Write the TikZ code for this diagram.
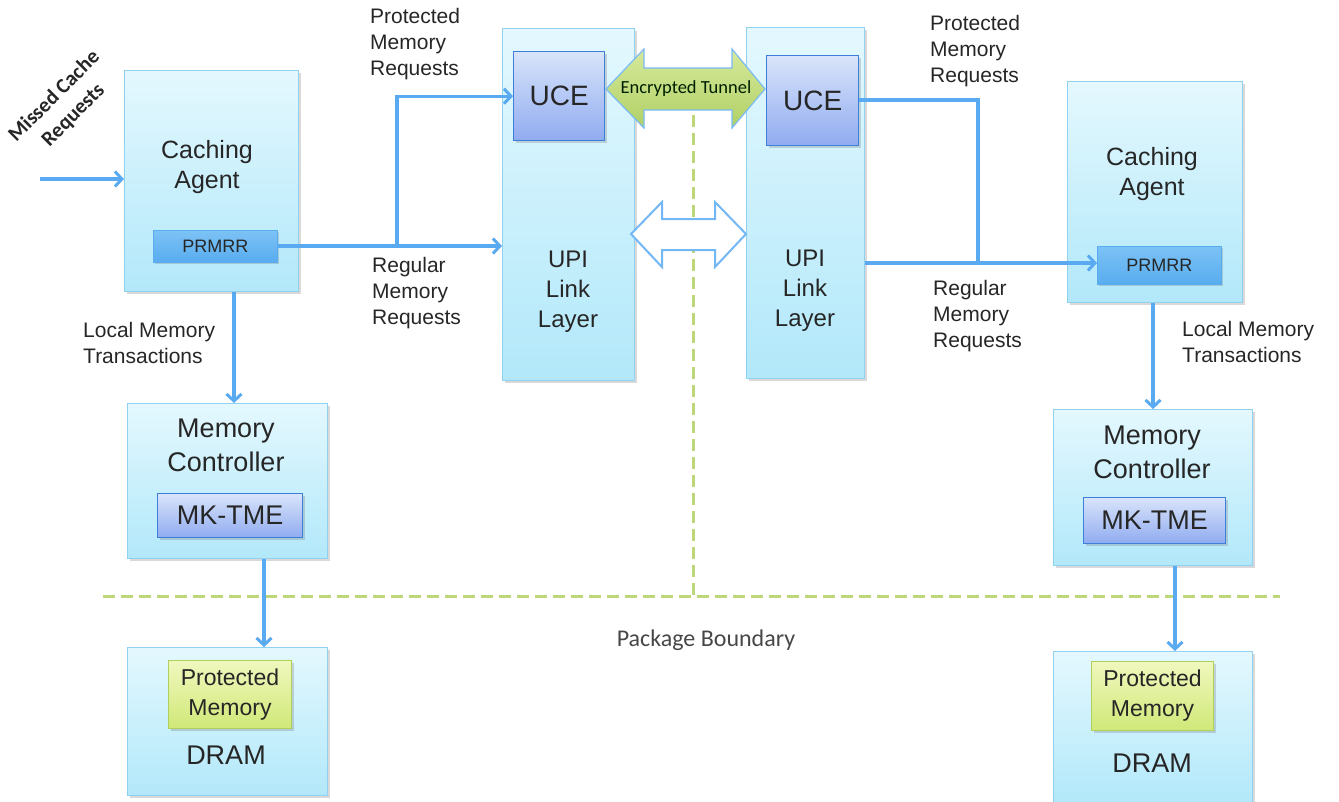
\documentclass[tikz,border=0pt]{standalone}
\usepackage{fontspec}
\setmainfont{Liberation Sans}
\newfontfamily\calib{Carlito}
\usetikzlibrary{arrows.meta,shadows}
\definecolor{txt}{HTML}{262626}
\definecolor{arr}{HTML}{5AAAF2}
\definecolor{bgtop}{HTML}{E4F8FE}
\definecolor{bgbot}{HTML}{B2E8FA}
\definecolor{bgline}{HTML}{90D0F0}
\definecolor{ucetop}{HTML}{D8E4FA}
\definecolor{ucebot}{HTML}{90ABF0}
\definecolor{uceline}{HTML}{3D7FD8}
\definecolor{prmtop}{HTML}{7CC2F5}
\definecolor{prmbot}{HTML}{58ACEF}
\definecolor{pmtop}{HTML}{F0F8BE}
\definecolor{pmbot}{HTML}{D0E878}
\definecolor{pmline}{HTML}{B0D05A}
\definecolor{dash}{HTML}{BDD77A}
\definecolor{tuntop}{HTML}{D6E99A}
\definecolor{tunbot}{HTML}{B0D066}
\tikzset{
  shd/.style={drop shadow={shadow xshift=2pt,shadow yshift=-2pt,opacity=0.25,fill=black!60}},
  bigbox/.style={draw=bgline,line width=1pt,top color=bgtop,bottom color=bgbot,anchor=north west,inner sep=0pt,shd},
  ucebox/.style={draw=uceline,line width=1.4pt,top color=ucetop,bottom color=ucebot,anchor=north west,inner sep=0pt,shd},
  prmbox/.style={draw=prmbot,line width=0.8pt,top color=prmtop,bottom color=prmbot,anchor=north west,inner sep=0pt,shd},
  pmbox/.style={draw=pmline,line width=1pt,top color=pmtop,bottom color=pmbot,anchor=north west,inner sep=0pt,shd},
  lbl/.style={text=txt,inner sep=0pt,align=left,anchor=west,font=\fontsize{21}{26}\selectfont},
  bigtxt/.style={text=txt,inner sep=0pt,align=center},
  conn/.style={draw=arr,line width=3.2pt},
  arrw/.style={conn,-{Straight Barb[length=7pt,width=15pt,line width=3pt]}},
  pkgline/.style={draw=dash,line width=3pt,dash pattern=on 12pt off 6pt}
}
\begin{document}
\begin{tikzpicture}[x=1pt,y=-1pt]
\useasboundingbox (0,0) rectangle (1339,801);

% package boundary dashed lines
\draw[pkgline] (693,115) -- (693,596);
\draw[pkgline] (103,596) -- (1280,596);
\node[text=txt!85,inner sep=0pt,font=\calib\fontsize{24}{26}\selectfont] (pkg) at (706,640) {Package Boundary};

% left side boxes
\node[bigbox,minimum width=174,minimum height=221] (ca1) at (124,70) {};
\node[prmbox,minimum width=124,minimum height=32] (prm1) at (153,230) {};
\node[bigtxt,font=\fontsize{18}{20}\selectfont] (prm1t) at (prm1) {PRMRR};
\node[bigtxt,font=\fontsize{25}{30}\selectfont] (ca1t) at (207,167) {Caching\\Agent};

\node[bigbox,minimum width=132,minimum height=352] (upi1) at (502,28) {};
\node[ucebox,minimum width=91,minimum height=89] (uce1) at (513,51) {};
\node[bigtxt,font=\fontsize{28}{30}\selectfont] (uce1t) at (uce1) {UCE};
\node[bigtxt,font=\fontsize{24}{30}\selectfont] (upi1t) at (568,292) {UPI\\Link\\Layer};

\node[bigbox,minimum width=200,minimum height=155] (mc1) at (127,403) {};
\node[bigtxt,font=\fontsize{27}{34}\selectfont] (mc1t) at (226,445) {Memory\\Controller};
\node[ucebox,minimum width=145,minimum height=44] (tme1) at (157,493) {};
\node[bigtxt,font=\fontsize{27}{30}\selectfont] (tme1t) at (tme1) {MK-TME};

\node[bigbox,minimum width=200,minimum height=148] (dr1) at (127,647) {};
\node[pmbox,minimum width=123,minimum height=68] (pm1) at (168,660) {};
\node[bigtxt,font=\fontsize{23}{30}\selectfont] (pm1t) at (pm1) {Protected\\Memory};
\node[bigtxt,font=\fontsize{27}{30}\selectfont] (dr1t) at (226,755) {DRAM};

% right side boxes
\node[bigbox,minimum width=175,minimum height=221] (ca2) at (1067,81) {};
\node[prmbox,minimum width=124,minimum height=38] (prm2) at (1097,246) {};
\node[bigtxt,font=\fontsize{18}{20}\selectfont] (prm2t) at (prm2) {PRMRR};
\node[bigtxt,font=\fontsize{25}{30}\selectfont] (ca2t) at (1152,174) {Caching\\Agent};

\node[bigbox,minimum width=118,minimum height=351] (upi2) at (746,27) {};
\node[ucebox,minimum width=92,minimum height=90] (uce2) at (766,55) {};
\node[bigtxt,font=\fontsize{28}{30}\selectfont] (uce2t) at (uce2) {UCE};
\node[bigtxt,font=\fontsize{24}{30}\selectfont] (upi2t) at (805,291) {UPI\\Link\\Layer};

\node[bigbox,minimum width=199,minimum height=156] (mc2) at (1053,409) {};
\node[bigtxt,font=\fontsize{27}{34}\selectfont] (mc2t) at (1152,452) {Memory\\Controller};
\node[ucebox,minimum width=142,minimum height=46] (tme2) at (1083,497) {};
\node[bigtxt,font=\fontsize{27}{30}\selectfont] (tme2t) at (tme2) {MK-TME};

\node[bigbox,minimum width=199,minimum height=152] (dr2) at (1053,651) {};
\node[pmbox,minimum width=122,minimum height=69] (pm2) at (1091,661) {};
\node[bigtxt,font=\fontsize{23}{30}\selectfont] (pm2t) at (pm2) {Protected\\Memory};
\node[bigtxt,font=\fontsize{27}{30}\selectfont] (dr2t) at (1152,763) {DRAM};

% tunnel arrows
\draw[draw=arr!80,line width=1.2pt,top color=tuntop,bottom color=tunbot]
  (606,89) -- (644,49) -- (644,68) -- (732,68) -- (732,49) -- (765,89)
  -- (732,128) -- (732,110) -- (644,110) -- (644,128) -- cycle;
\node[text=black!70!green!40!black,inner sep=0pt,font=\calib\fontsize{18.5}{20}\selectfont] (tun) at (686,89) {Encrypted Tunnel};
\draw[draw=arr!85,line width=2pt,fill=white]
  (631,234) -- (662,202) -- (662,219) -- (715,219) -- (715,202) -- (746,234)
  -- (715,267) -- (715,250) -- (662,250) -- (662,267) -- cycle;

% labels
\node[text=txt,inner sep=0pt,align=center,rotate=45,font=\calib\bfseries\fontsize{21}{27}\selectfont] (mcrt) at (64,106) {Missed Cache\\Requests};
\node[lbl] (pl1) at (370,44.5) {Protected\\Memory\\Requests};
\node[lbl] (rl1) at (372,293.5) {Regular\\Memory\\Requests};
\node[lbl] (pl2) at (930,51.5) {Protected\\Memory\\Requests};
\node[lbl] (rl2) at (933,316) {Regular\\Memory\\Requests};
\node[lbl] (ll1) at (83,343) {Local Memory\\Transactions};
\node[lbl] (ll2) at (1182,342) {Local Memory\\Transactions};

% connectors
\coordinate (mcr) at (40,179);
\draw[arrw] (mcr) -- (mcr -| ca1.west);

\coordinate (j1) at (397,246);
\draw[conn] (prm1.east |- j1) -- (j1);
\draw[arrw] (j1) -- (j1 -| upi1.west);
\draw[arrw] (j1) |- (uce1.west);

\coordinate (j2) at (978,263);
\draw[conn] (uce2.east |- 0,100) -| (j2);
\draw[arrw] (upi2.east |- j2) -- (prm2.west |- j2);

\coordinate (a1) at (234,0);
\draw[arrw] (ca1.south -| a1) -- (mc1.north -| a1);
\coordinate (a2) at (1153,0);
\draw[arrw] (ca2.south -| a2) -- (mc2.north -| a2);
\coordinate (b1) at (264,0);
\draw[arrw] (mc1.south -| b1) -- (dr1.north -| b1);
\coordinate (b2) at (1175,0);
\draw[arrw] (mc2.south -| b2) -- (dr2.north -| b2);
\end{tikzpicture}
\end{document}
